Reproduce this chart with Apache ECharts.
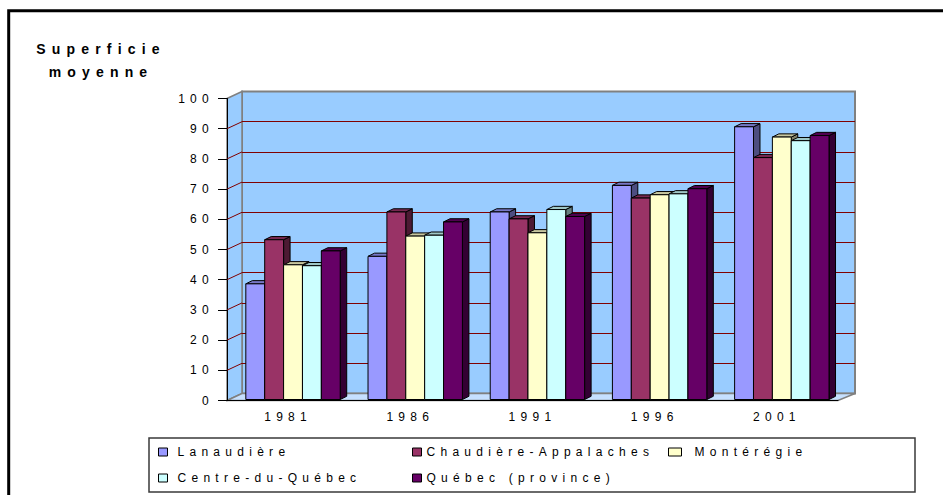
<!DOCTYPE html>
<html>
<head>
<meta charset="utf-8">
<script src="https://cdn.jsdelivr.net/npm/echarts@6/dist/echarts.min.js"></script>
<style>
  html, body { margin: 0; padding: 0; background: #fff; }
  #main { width: 943px; height: 495px; }
  /* the original is an old spreadsheet chart with wide letter spacing */
  #main svg text { letter-spacing: 0.44em; }
</style>
</head>
<body>
<div id="main"></div>
<script>
var years = ['1981', '1986', '1991', '1996', '2001'];
var regions = ['Lanaudière', 'Chaudière-Appalaches', 'Montérégie', 'Centre-du-Québec', 'Québec (province)'];
var lanaudiere = [38.3, 47.4, 62.1, 70.9, 90.3];
var chaudiere = [52.9, 62.1, 59.8, 66.7, 80.1];
var monteregie = [44.6, 54.1, 55.2, 67.8, 86.9];
var centreQc = [44.3, 54.4, 62.9, 68.1, 85.7];
var quebecProv = [49.2, 58.8, 60.6, 69.8, 87.4];
var sideTicks = [10, 20, 30, 40, 50, 60, 70, 80, 90];

var seriesValues = [lanaudiere, chaudiere, monteregie, centreQc, quebecProv];
var colors = ['#9999FF', '#993366', '#FFFFCC', '#CCFFFF', '#660066'];

var FONT = '"Liberation Sans", Arial, sans-serif';
var DEPTH_X = 15, DEPTH_Y = -7;   // wall depth
var BAR_DX = 6.5, BAR_DY = -3.2;  // bar depth

function shade(hex, k) {
  var n = parseInt(hex.slice(1), 16);
  var r = Math.round(((n >> 16) & 255) * k);
  var g = Math.round(((n >> 8) & 255) * k);
  var b = Math.round((n & 255) * k);
  return 'rgb(' + r + ',' + g + ',' + b + ')';
}

// 3d-looking bar: side, top, then front face
function barRenderer(idx, color) {
  return function (params, api) {
    var cat = api.value(0);
    var val = api.value(1);
    var band = api.size([1, 0])[0];
    var base = api.coord([cat, 0]);
    var top = api.coord([cat, val]);
    var w = band * 0.1545;
    var x0 = base[0] - band / 2 + band * 0.154 + idx * w;
    var x1 = x0 + w;
    var yb = base[1] - 1;
    var yt = top[1] - 1;
    return {
      type: 'group',
      children: [
        {
          type: 'polygon',
          shape: { points: [[x1, yt], [x1 + BAR_DX, yt + BAR_DY], [x1 + BAR_DX, yb + BAR_DY], [x1, yb]] },
          style: { fill: shade(color, 0.5), stroke: '#000', lineWidth: 1 }
        },
        {
          type: 'polygon',
          shape: { points: [[x0, yt], [x0 + BAR_DX, yt + BAR_DY], [x1 + BAR_DX, yt + BAR_DY], [x1, yt]] },
          style: { fill: shade(color, 0.78), stroke: '#000', lineWidth: 1 }
        },
        {
          type: 'rect',
          shape: { x: x0, y: yt, width: w, height: yb - yt },
          style: { fill: color, stroke: '#000', lineWidth: 1 }
        }
      ]
    };
  };
}

var series = [];
// gridlines on the left side wall
series.push({
  type: 'custom',
  name: 'sideGrid',
  xAxisIndex: 0,
  yAxisIndex: 0,
  silent: true,
  data: sideTicks.map(function (v) { return [0, v]; }),
  renderItem: function (params, api) {
    var p = api.coord([0, api.value(1)]);
    var x = params.coordSys.x;
    return {
      type: 'line',
      shape: { x1: x, y1: p[1], x2: x + DEPTH_X, y2: p[1] + DEPTH_Y },
      style: { stroke: '#800000', lineWidth: 1 }
    };
  }
});
for (var i = 0; i < regions.length; i++) {
  series.push({
    type: 'custom',
    name: regions[i],
    xAxisIndex: 0,
    yAxisIndex: 0,
    itemStyle: { color: colors[i] },
    encode: { x: 0, y: 1 },
    data: seriesValues[i].map(function (v, j) { return [j, v]; }),
    renderItem: barRenderer(i, colors[i])
  });
}

function legendAt(name, left, top, iconW, pad) {
  return {
    data: [name],
    left: left,
    top: top,
    orient: 'horizontal',
    padding: 0,
    icon: 'rect',
    itemWidth: iconW,
    itemHeight: 8,
    itemStyle: { borderColor: '#000', borderWidth: 1 },
    textStyle: { fontFamily: FONT, fontSize: 12, color: '#000', lineHeight: 14, padding: [0, 0, 0, pad] },
    selectedMode: false
  };
}

var chart = echarts.init(document.getElementById('main'), null, { renderer: 'svg' });

var option = {
  backgroundColor: '#fff',
  animation: false,
  grid: [
    { left: 227, top: 98.5, width: 611, height: 302 },
    { left: 242, top: 91.5, width: 613, height: 302 }
  ],
  xAxis: [
    {
      type: 'category',
      gridIndex: 0,
      data: years,
      axisLine: { lineStyle: { color: '#000', width: 1 } },
      axisTick: { length: 6, lineStyle: { color: '#000' } },
      axisLabel: { fontFamily: FONT, fontSize: 12, color: '#000', margin: 10 }
    },
    { type: 'category', gridIndex: 1, data: years, show: false }
  ],
  yAxis: [
    {
      type: 'value',
      gridIndex: 0,
      min: 0,
      max: 100,
      interval: 10,
      axisLine: { show: true, lineStyle: { color: '#000', width: 1 } },
      axisTick: { show: true, length: 9, lineStyle: { color: '#000' } },
      axisLabel: { fontFamily: FONT, fontSize: 12, color: '#000', margin: 13 },
      splitLine: { show: false }
    },
    {
      type: 'value',
      gridIndex: 1,
      min: 0,
      max: 100,
      interval: 10,
      axisLine: { show: false },
      axisTick: { show: false },
      axisLabel: { show: false },
      splitLine: { show: true, showMinLine: false, showMaxLine: false, lineStyle: { color: '#800000', width: 1 } }
    }
  ],
  legend: [
    legendAt('Lanaudière', 158, 445, 9, 5),
    legendAt('Chaudière-Appalaches', 412, 445, 9, 0),
    legendAt('Montérégie', 668, 445, 13, 8),
    legendAt('Centre-du-Québec', 158, 471, 9, 5),
    legendAt('Québec (province)', 412, 471, 9, 0)
  ],
  graphic: [
    // outer frame
    { type: 'rect', z: -20, shape: { x: 8.7, y: 10.7, width: 1000, height: 600 }, style: { fill: null, stroke: '#000', lineWidth: 3 } },
    // back wall
    { type: 'rect', z: -10, shape: { x: 242, y: 91.5, width: 613, height: 302 }, style: { fill: '#99CCFF', stroke: '#808080', lineWidth: 2 } },
    // left wall
    { type: 'polygon', z: -10, shape: { points: [[227, 98.5], [242, 91.5], [242, 393.5], [227, 400.5]] }, style: { fill: '#99CCFF', stroke: '#808080', lineWidth: 1.5 } },
    // floor
    { type: 'polygon', z: -10, shape: { points: [[227, 400.5], [242, 393.5], [855, 393.5], [838, 400.5]] }, style: { fill: '#C6E0FF', stroke: '#808080', lineWidth: 1.5 } },
    // legend box
    { type: 'rect', z: -10, shape: { x: 149, y: 438, width: 766, height: 54 }, style: { fill: '#fff', stroke: '#3a3a3a', lineWidth: 1.5 } },
    // axis title
    {
      type: 'text', z: 5, x: 101, y: 37,
      style: { text: 'Superficie\nmoyenne', align: 'center', verticalAlign: 'top', font: 'bold 14px ' + FONT, fill: '#000', lineHeight: 23 }
    }
  ],
  series: series
};

chart.setOption(option);
</script>
</body>
</html>
